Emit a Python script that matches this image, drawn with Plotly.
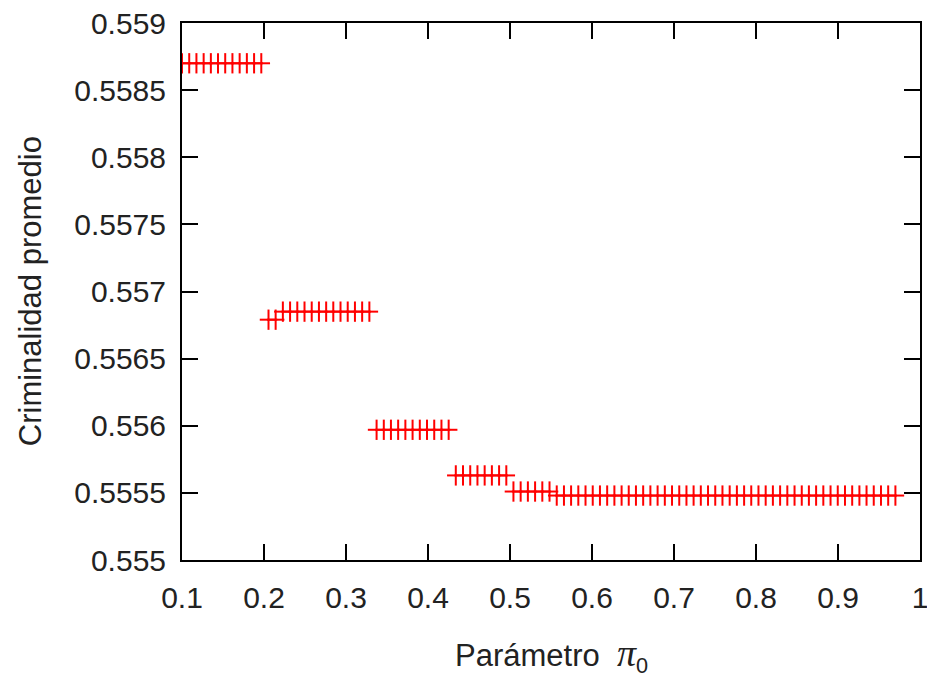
import plotly.graph_objects as go

# Parameter pi_0 sampled on a fine grid
pi0 = [
    0.1000, 0.1088, 0.1176, 0.1264, 0.1352, 0.1439, 0.1527, 0.1615, 0.1703, 0.1791,
    0.1879, 0.1967, 0.2055, 0.2142, 0.2230, 0.2318, 0.2406, 0.2494, 0.2582, 0.2670,
    0.2758, 0.2845, 0.2933, 0.3021, 0.3109, 0.3197, 0.3285, 0.3373, 0.3461, 0.3548,
    0.3636, 0.3724, 0.3812, 0.3900, 0.3988, 0.4076, 0.4164, 0.4252, 0.4339, 0.4427,
    0.4515, 0.4603, 0.4691, 0.4779, 0.4867, 0.4955, 0.5042, 0.5130, 0.5218, 0.5306,
    0.5394, 0.5482, 0.5570, 0.5658, 0.5745, 0.5833, 0.5921, 0.6009, 0.6097, 0.6185,
    0.6273, 0.6361, 0.6448, 0.6536, 0.6624, 0.6712, 0.6800, 0.6888, 0.6976, 0.7064,
    0.7152, 0.7239, 0.7327, 0.7415, 0.7503, 0.7591, 0.7679, 0.7767, 0.7855, 0.7942,
    0.8030, 0.8118, 0.8206, 0.8294, 0.8382, 0.8470, 0.8558, 0.8645, 0.8733, 0.8821,
    0.8909, 0.8997, 0.9085, 0.9173, 0.9261, 0.9348, 0.9436, 0.9524, 0.9612, 0.9700,
]

# Mean criminality for each pi_0
criminalidad = [
    0.55870, 0.55870, 0.55870, 0.55870, 0.55870, 0.55870, 0.55870, 0.55870, 0.55870, 0.55870,
    0.55870, 0.55870, 0.55679, 0.55679, 0.55685, 0.55685, 0.55685, 0.55685, 0.55685, 0.55685,
    0.55685, 0.55685, 0.55685, 0.55685, 0.55685, 0.55685, 0.55685, 0.55597, 0.55597, 0.55597,
    0.55597, 0.55597, 0.55597, 0.55597, 0.55597, 0.55597, 0.55597, 0.55597, 0.55563, 0.55563,
    0.55563, 0.55563, 0.55563, 0.55563, 0.55563, 0.55563, 0.55551, 0.55551, 0.55551, 0.55551,
    0.55551, 0.55551, 0.55548, 0.55548, 0.55548, 0.55548, 0.55548, 0.55548, 0.55548, 0.55548,
    0.55548, 0.55548, 0.55548, 0.55548, 0.55548, 0.55548, 0.55548, 0.55548, 0.55548, 0.55548,
    0.55548, 0.55548, 0.55548, 0.55548, 0.55548, 0.55548, 0.55548, 0.55548, 0.55548, 0.55548,
    0.55548, 0.55548, 0.55548, 0.55548, 0.55548, 0.55548, 0.55548, 0.55548, 0.55548, 0.55548,
    0.55548, 0.55548, 0.55548, 0.55548, 0.55548, 0.55548, 0.55548, 0.55548, 0.55548, 0.55548,
]

x_ticks = [0.1, 0.2, 0.3, 0.4, 0.5, 0.6, 0.7, 0.8, 0.9, 1.0]
x_labels = ["0.1", "0.2", "0.3", "0.4", "0.5", "0.6", "0.7", "0.8", "0.9", "1"]
y_ticks = [0.555, 0.5555, 0.556, 0.5565, 0.557, 0.5575, 0.558, 0.5585, 0.559]
y_labels = ["0.555", "0.5555", "0.556", "0.5565", "0.557", "0.5575", "0.558", "0.5585", "0.559"]

RED = "#ff0000"
FONT = "Liberation Sans, Arial, sans-serif"
TEXT = "#222222"

fig = go.Figure()
# '+' points drawn as a vertical and a horizontal stroke
fig.add_trace(go.Scatter(
    x=pi0, y=criminalidad, mode="markers", showlegend=False, hoverinfo="skip",
    marker=dict(symbol="line-ns", size=14.5, line=dict(color=RED, width=2)),
))
fig.add_trace(go.Scatter(
    x=pi0, y=criminalidad, mode="markers", showlegend=False,
    marker=dict(symbol="line-ew", size=12.5, line=dict(color=RED, width=2)),
))

axis_common = dict(
    showgrid=False, zeroline=False, automargin=False, ticklabeloverflow="allow",
    showline=True, linecolor="black", linewidth=2, mirror="ticks",
    ticks="inside", ticklen=16, tickwidth=2, tickcolor="black",
    tickfont=dict(family=FONT, size=30, color=TEXT),
)

fig.update_xaxes(
    range=[0.1, 1.0], tickvals=x_ticks, ticktext=x_labels,
    ticklabelstandoff=10,
    **axis_common,
)
fig.update_yaxes(
    range=[0.555, 0.559], tickvals=y_ticks, ticktext=y_labels,
    ticklabelstandoff=8,
    **axis_common,
)

# Axis titles placed in paper coordinates
fig.add_annotation(
    text=("Parámetro  <span style='font-family:Liberation Serif;font-size:38px'>"
          "<i>π</i></span><sub>0</sub>"),
    xref="paper", yref="paper",
    x=0.5, y=-0.177, xanchor="center", yanchor="middle", showarrow=False,
    font=dict(family=FONT, size=31, color=TEXT),
)
fig.add_annotation(
    text="Criminalidad promedio", xref="paper", yref="paper",
    x=-0.205, y=0.5, xanchor="center", yanchor="middle", showarrow=False,
    textangle=-90, font=dict(family=FONT, size=31, color=TEXT),
)

fig.update_layout(
    width=927, height=677,
    margin=dict(l=182, r=7, t=23, b=117),
    paper_bgcolor="white", plot_bgcolor="white",
)

fig.write_html("out.html")
